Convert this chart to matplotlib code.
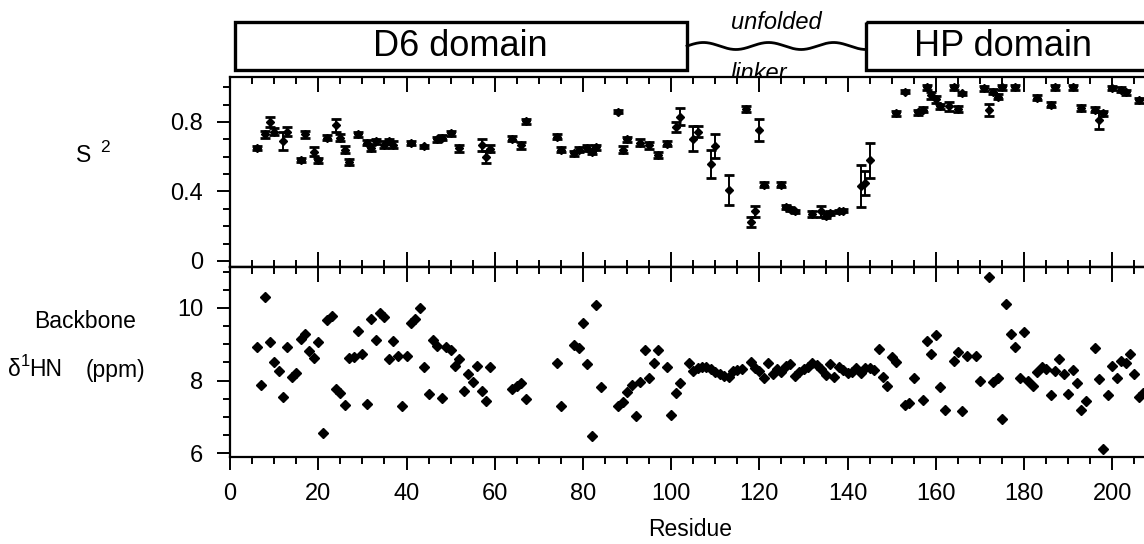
import numpy as np
import matplotlib
matplotlib.use("Agg")
import matplotlib.pyplot as plt
from matplotlib.patches import Rectangle
from matplotlib.ticker import MultipleLocator, FixedLocator

plt.rcParams['font.family'] = ['Liberation Sans', 'DejaVu Sans']

# ---------------- data ----------------
s2_res = [6, 8, 9, 10, 12, 13, 16, 17, 19, 20, 22, 24, 25, 26, 27, 29, 31, 32, 33, 35,
          36, 37, 41, 44, 47, 48, 50, 52, 57, 58, 59, 64, 66, 67, 74, 75, 78, 79, 81, 82,
          83, 88, 89, 90, 93, 95, 97, 99, 101, 102, 105, 106, 109, 110, 113, 117, 118, 119,
          120, 121, 125, 126, 127, 128, 132, 134, 135, 136, 138, 139, 143, 144, 145, 151,
          153, 156, 157, 158, 159, 160, 161, 163, 164, 165, 166, 171, 172, 173, 174, 175,
          178, 183, 186, 187, 191, 193, 196, 197, 198, 200, 202, 203, 206]
s2_val = [0.65, 0.73, 0.80, 0.745, 0.69, 0.745, 0.58, 0.73, 0.63, 0.58, 0.71, 0.78, 0.71,
          0.64, 0.57, 0.73, 0.68, 0.65, 0.69, 0.67, 0.69, 0.67, 0.68, 0.66, 0.70, 0.71,
          0.735, 0.65, 0.67, 0.60, 0.645, 0.705, 0.665, 0.805, 0.715, 0.64, 0.62, 0.64,
          0.65, 0.63, 0.655, 0.86, 0.64, 0.70, 0.68, 0.665, 0.61, 0.675, 0.77, 0.83, 0.705,
          0.745, 0.56, 0.66, 0.41, 0.875, 0.225, 0.285, 0.755, 0.44, 0.44, 0.31, 0.30,
          0.285, 0.27, 0.285, 0.26, 0.275, 0.285, 0.29, 0.43, 0.45, 0.58, 0.85, 0.975,
          0.855, 0.87, 1.0, 0.955, 0.93, 0.89, 0.89, 1.0, 0.875, 0.965, 0.995, 0.87, 0.975,
          0.945, 1.0, 1.0, 0.94, 0.90, 1.0, 1.0, 0.88, 0.87, 0.81, 0.85, 0.995, 0.985,
          0.97, 0.925]
s2_err = [0.01, 0.02, 0.03, 0.02, 0.05, 0.025, 0.012, 0.02, 0.025, 0.015, 0.015, 0.035,
          0.02, 0.02, 0.015, 0.015, 0.015, 0.015, 0.015, 0.02, 0.015, 0.02, 0.01, 0.01,
          0.015, 0.015, 0.015, 0.02, 0.035, 0.035, 0.02, 0.015, 0.02, 0.015, 0.015, 0.015,
          0.015, 0.015, 0.015, 0.015, 0.015, 0.01, 0.02, 0.015, 0.02, 0.02, 0.015, 0.015,
          0.03, 0.05, 0.07, 0.03, 0.08, 0.07, 0.085, 0.015, 0.03, 0.03, 0.065, 0.012,
          0.012, 0.01, 0.01, 0.01, 0.015, 0.03, 0.015, 0.01, 0.01, 0.01, 0.12, 0.07, 0.10,
          0.015, 0.01, 0.015, 0.015, 0.015, 0.02, 0.02, 0.015, 0.025, 0.015, 0.015, 0.01,
          0.015, 0.035, 0.015, 0.015, 0.015, 0.015, 0.015, 0.015, 0.015, 0.015, 0.015,
          0.015, 0.05, 0.015, 0.01, 0.015, 0.015, 0.015]

hn_res = [6, 7, 8, 9, 10, 11, 12, 13, 14, 15, 16, 17, 18, 19, 20, 21, 22, 23, 24, 25, 26,
          27, 28, 29, 30, 31, 32, 33, 34, 35, 36, 37, 38, 39, 40, 41, 42, 43, 44, 45, 46,
          47, 48, 49, 50, 51, 52, 53, 54, 55, 56, 57, 58, 59, 64, 65, 66, 67, 74, 75, 78,
          79, 80, 81, 82, 83, 84, 88, 89, 90, 91, 92, 93, 94, 95, 96, 97, 99, 100, 101,
          102, 104, 105, 106, 107, 108, 109, 110, 111, 112, 113, 114, 115, 116, 118, 119,
          120, 121, 122, 123, 124, 125, 126, 127, 128, 129, 130, 131, 132, 133, 134, 135,
          136, 137, 138, 139, 140, 141, 142, 143, 144, 145, 146, 147, 148, 149, 150, 151,
          153, 154, 155, 157, 158, 159, 160, 161, 162, 164, 165, 166, 167, 169, 170, 172,
          173, 174, 175, 176, 177, 178, 179, 180, 181, 182, 183, 184, 185, 186, 187, 188,
          189, 190, 191, 192, 193, 194, 196, 197, 198, 199, 200, 201, 202, 203, 204, 205,
          206, 207]
hn_val = [8.93, 7.88, 10.31, 9.05, 8.52, 8.27, 7.55, 8.93, 8.10, 8.22, 9.14, 9.28, 8.82,
          8.61, 9.07, 6.54, 9.67, 9.79, 7.76, 7.65, 7.32, 8.61, 8.66, 9.37, 8.72, 7.35,
          9.70, 9.12, 9.87, 9.76, 8.59, 9.10, 8.68, 7.30, 8.68, 9.58, 9.69, 10.01, 8.36,
          7.62, 9.12, 8.95, 7.51, 8.92, 8.84, 8.41, 8.59, 7.72, 8.18, 7.96, 8.41, 7.71,
          7.43, 8.38, 7.77, 7.84, 7.94, 7.49, 8.47, 7.30, 8.97, 8.89, 9.60, 8.46, 6.48,
          10.07, 7.81, 7.30, 7.42, 7.67, 7.88, 7.03, 7.97, 8.84, 8.06, 8.49, 8.84, 8.36,
          7.06, 7.65, 7.94, 8.47, 8.27, 8.34, 8.38, 8.38, 8.32, 8.24, 8.18, 8.13, 8.09,
          8.26, 8.29, 8.32, 8.50, 8.34, 8.26, 8.06, 8.47, 8.17, 8.32, 8.24, 8.40, 8.46,
          8.12, 8.23, 8.32, 8.38, 8.47, 8.42, 8.32, 8.14, 8.46, 8.10, 8.36, 8.29, 8.22,
          8.24, 8.34, 8.22, 8.34, 8.35, 8.29, 8.86, 8.09, 7.85, 8.66, 8.52, 7.32, 7.37,
          8.06, 7.46, 9.09, 8.73, 9.26, 7.83, 7.19, 8.54, 8.80, 7.15, 8.68, 8.67, 7.99,
          10.85, 7.95, 8.06, 6.94, 10.10, 9.27, 8.93, 8.06, 9.33, 7.99, 7.86, 8.24, 8.36,
          8.31, 7.59, 8.26, 8.60, 8.19, 7.63, 8.28, 7.94, 7.19, 7.44, 8.91, 8.04, 6.12,
          7.59, 8.40, 8.06, 8.55, 8.47, 8.73, 8.17, 7.55, 7.65]

domain_names = ["D6 domain", "HP domain"]
domain_start = [1.0, 144.2]
domain_end = [103.6, 230.0]
domain_label_x = [52.3, 175.3]
linker_label = ("unfolded", "linker")

x_ticks = [0, 20, 40, 60, 80, 100, 120, 140, 160, 180, 200]
s2_ticks = [0, 0.4, 0.8]
s2_tick_labels = ["0", "0.4", "0.8"]
hn_ticks = [6, 8, 10]

# ---------------- layout ----------------
W, H = 1144, 544
fig = plt.figure(figsize=(W / 100, H / 100), dpi=100)
fig.patch.set_facecolor('white')

x0 = 230.1
pxu = 4.411
xmax = (W - x0) / pxu

def fy(p):
    return 1 - p / H

ax1 = fig.add_axes([x0 / W, fy(267), 1 - x0 / W, (267 - 77) / H])
ax2 = fig.add_axes([x0 / W, fy(457), 1 - x0 / W, (457 - 267) / H])
axd = fig.add_axes([x0 / W, fy(77), 1 - x0 / W, 77 / H])
axd.set_zorder(0)
ax1.set_zorder(2)
ax2.set_zorder(2)
axd.axis('off')
axd.set_xlim(0, xmax)
axd.set_ylim(77, 0)

lw_sp = 1.6
for ax in (ax1, ax2):
    ax.set_xlim(0, xmax)
    ax.set_facecolor('white')
    ax.spines['right'].set_visible(False)
    for s in ('left', 'top', 'bottom'):
        ax.spines[s].set_linewidth(lw_sp)
    ax.xaxis.set_major_locator(MultipleLocator(20))
    ax.xaxis.set_minor_locator(MultipleLocator(5))

# top panel
s2_scale = 173.75
ax1.set_ylim(-(267 - 261) / s2_scale, (261 - 77) / s2_scale)
ax1.set_yticks(s2_ticks)
ax1.set_yticklabels(s2_tick_labels)
ax1.yaxis.set_minor_locator(FixedLocator(np.arange(0, 1.01, 0.1)))
ax1.tick_params(axis='y', which='major', direction='out', length=9.5, width=1.4,
                labelsize=17, pad=10, right=False)
ax1.tick_params(axis='y', which='minor', direction='out', length=5, width=1.4, right=False)
ax1.tick_params(axis='x', which='major', direction='in', length=10.5, width=1.4,
                top=True, bottom=True, labelbottom=False)
ax1.tick_params(axis='x', which='minor', direction='in', length=5, width=1.4,
                top=True, bottom=True)
ax1.errorbar(s2_res, s2_val, yerr=s2_err, fmt='D', ms=4.3, color='black',
             ecolor='black', elinewidth=1.4, capsize=3.6, capthick=2.0, clip_on=True)

# bottom panel
hn_scale = 36.25
ax2.set_ylim(10 - (457 - 308) / hn_scale, 10 + (308 - 267) / hn_scale)
ax2.set_yticks(hn_ticks)
ax2.yaxis.set_minor_locator(FixedLocator(np.arange(6, 11.01, 0.5)))
ax2.tick_params(axis='y', which='major', direction='out', length=9.5, width=1.4,
                labelsize=17, pad=10, right=False)
ax2.tick_params(axis='y', which='minor', direction='out', length=5, width=1.4, right=False)
ax2.set_xticks(x_ticks)
ax2.tick_params(axis='x', which='major', direction='out', length=9.5, width=1.4,
                labelsize=17, pad=9, top=False)
ax2.tick_params(axis='x', which='minor', direction='out', length=5, width=1.4, top=False)
sec = ax2.secondary_xaxis('top')
sec.xaxis.set_major_locator(MultipleLocator(20))
sec.xaxis.set_minor_locator(MultipleLocator(5))
sec.tick_params(axis='x', which='major', direction='in', length=10.5, width=1.4, labeltop=False)
sec.tick_params(axis='x', which='minor', direction='in', length=5, width=1.4)
sec.spines['top'].set_linewidth(lw_sp)
ax2.plot(hn_res, hn_val, 'D', ms=5, color='black', linestyle='none')

# domain bar
for name, a, b, lx in zip(domain_names, domain_start, domain_end, domain_label_x):
    axd.add_patch(Rectangle((a, 22), b - a, 48, fill=False, lw=2.4,
                            edgecolor='black', clip_on=False))
    axd.text(lx, 47, name, ha='center', va='center', fontsize=26)
t = np.linspace(0, 1, 300)
wx = domain_end[0] + t * (domain_start[1] - domain_end[0])
wy = 46 - 3.5 * np.sin(2 * np.pi * 2.75 * t)
axd.plot(wx, wy, color='black', lw=2.0, clip_on=False)
axd.text(123.8, 29, linker_label[0], ha='center', va='baseline', fontsize=17,
         style='italic')
axd.text(119.8, 80, linker_label[1], ha='center', va='baseline', fontsize=17,
         style='italic')

# axis labels
def ftxt(xp, yp, s, **kw):
    fig.text(xp / W, fy(yp), s, **kw)

ftxt(76, 156, "S", fontsize=16.5, ha='left', va='center')
ftxt(100, 147, "2", fontsize=12.5, ha='left', va='center')
ftxt(85, 322, "Backbone", fontsize=16.5, ha='center', va='center')
ftxt(8, 370, "\u03b4", fontsize=16.5, ha='left', va='center')
ftxt(21, 362, "1", fontsize=12, ha='left', va='center')
ftxt(29, 370, "HN", fontsize=16.5, ha='left', va='center')
ftxt(86, 370, "(ppm)", fontsize=16.5, ha='left', va='center')
ftxt(690, 530, "Residue", fontsize=16.5, ha='center', va='center')

fig.savefig("out.png", dpi=100, facecolor='white')
